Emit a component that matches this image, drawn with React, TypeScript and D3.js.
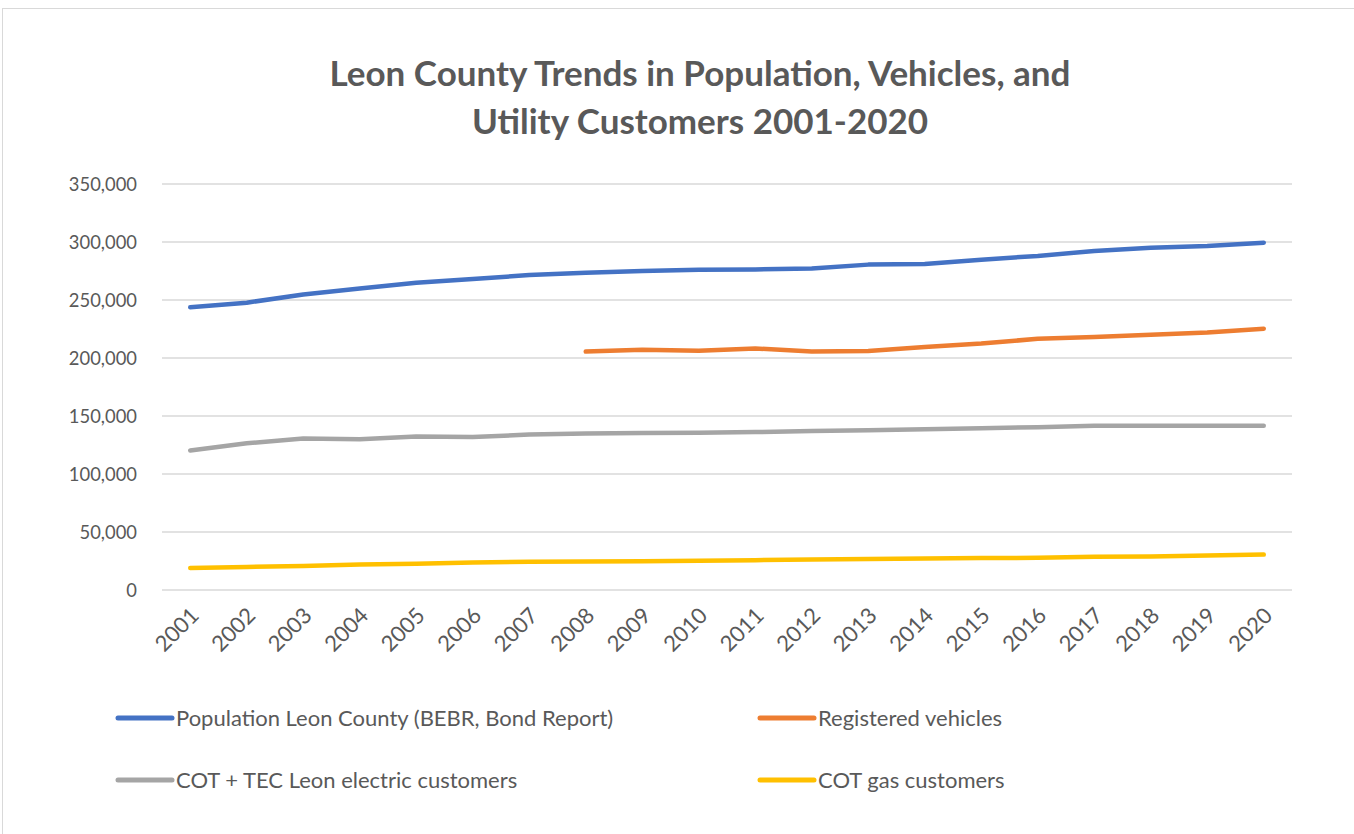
import * as d3 from 'd3';

const years = [
  '2001', '2002', '2003', '2004', '2005', '2006', '2007', '2008', '2009', '2010',
  '2011', '2012', '2013', '2014', '2015', '2016', '2017', '2018', '2019', '2020',
];

const population = [
  243700, 247700, 254800, 260000, 264800, 268000, 271500, 273500, 275000, 276000,
  276400, 277200, 280500, 281100, 284800, 288000, 292300, 295000, 296600, 299400,
];

const vehicles = [
  null, null, null, null, null, null, null, 205500, 207200, 206200,
  208200, 205600, 206000, 209500, 212400, 216600, 218200, 220100, 222000, 225300,
];

const electric = [
  120300, 126500, 130600, 130000, 132400, 131800, 134000, 135000, 135400, 135600,
  136100, 137000, 137700, 138600, 139500, 140400, 141600, 141700, 141700, 141700,
];

const gas = [
  19000, 19900, 20600, 22000, 22700, 23600, 24300, 24600, 24700, 25300,
  25700, 26200, 26700, 27100, 27600, 27700, 28700, 28800, 29700, 30500,
];

const yTicks = [0, 50000, 100000, 150000, 200000, 250000, 300000, 350000];

const series = [
  { name: 'Population Leon County (BEBR, Bond Report)', values: population, color: '#4472C4' },
  { name: 'Registered vehicles', values: vehicles, color: '#ED7D31' },
  { name: 'COT + TEC Leon electric customers', values: electric, color: '#A5A5A5' },
  { name: 'COT gas customers', values: gas, color: '#FFC000' },
];

const width = 1354;
const height = 834;
const font = 'Lato, "Open Sans", sans-serif';
const textColor = '#595959';

export default function App() {
  const x = d3.scaleBand().domain(years).range([162, 1292]);
  const y = d3.scaleLinear().domain([0, 350000]).range([590, 184]);
  const xc = (yr: string) => (x(yr) as number) + x.bandwidth() / 2;
  const fmt = d3.format(',');

  const line = d3
    .line<number | null>()
    .defined((d) => d != null)
    .x((_, i) => xc(years[i]))
    .y((d) => y(d as number));

  const legendPos = [
    { lx: 118, ly: 718 },
    { lx: 760, ly: 718 },
    { lx: 118, ly: 780 },
    { lx: 760, ly: 780 },
  ];

  return (
    <svg
      width={width}
      height={height}
      style={{ position: 'absolute', left: 0, top: 0, background: '#fff' }}
      fontFamily={font}
    >
      <rect x={2.5} y={8.5} width={width + 10} height={height + 10} fill="#fff" stroke="#D9D9D9" />

      <text x={700} y={86} textAnchor="middle" fontSize={35} fontWeight={700} fill={textColor}>
        Leon County Trends in Population, Vehicles, and
      </text>
      <text x={700} y={134} textAnchor="middle" fontSize={35} fontWeight={700} fill={textColor}>
        Utility Customers 2001-2020
      </text>

      {yTicks.map((t) => (
        <g key={t}>
          <line x1={162} x2={1292} y1={y(t)} y2={y(t)} stroke="#D9D9D9" strokeWidth={1.3} />
          <text
            transform={`translate(137,${y(t)}) scale(0.92,1)`}
            dy="0.35em"
            textAnchor="end"
            fontSize={20}
            fill={textColor}
          >
            {fmt(t)}
          </text>
        </g>
      ))}

      {years.map((yr) => (
        <text
          key={yr}
          transform={`translate(${xc(yr) + 10},${617}) rotate(-45)`}
          textAnchor="end"
          fontSize={22}
          fill={textColor}
        >
          {yr}
        </text>
      ))}

      {series.map((s) => (
        <path
          key={s.name}
          d={line(s.values) ?? ''}
          fill="none"
          stroke={s.color}
          strokeWidth={4.5}
          strokeLinecap="round"
          strokeLinejoin="round"
        />
      ))}

      {series.map((s, i) => (
        <g key={s.name} transform={`translate(${legendPos[i].lx},${legendPos[i].ly})`}>
          <line x1={0} x2={54} y1={0} y2={0} stroke={s.color} strokeWidth={5} strokeLinecap="round" />
          <text x={58} y={0} dy="0.35em" fontSize={22} fill={textColor}>
            {s.name}
          </text>
        </g>
      ))}
    </svg>
  );
}
